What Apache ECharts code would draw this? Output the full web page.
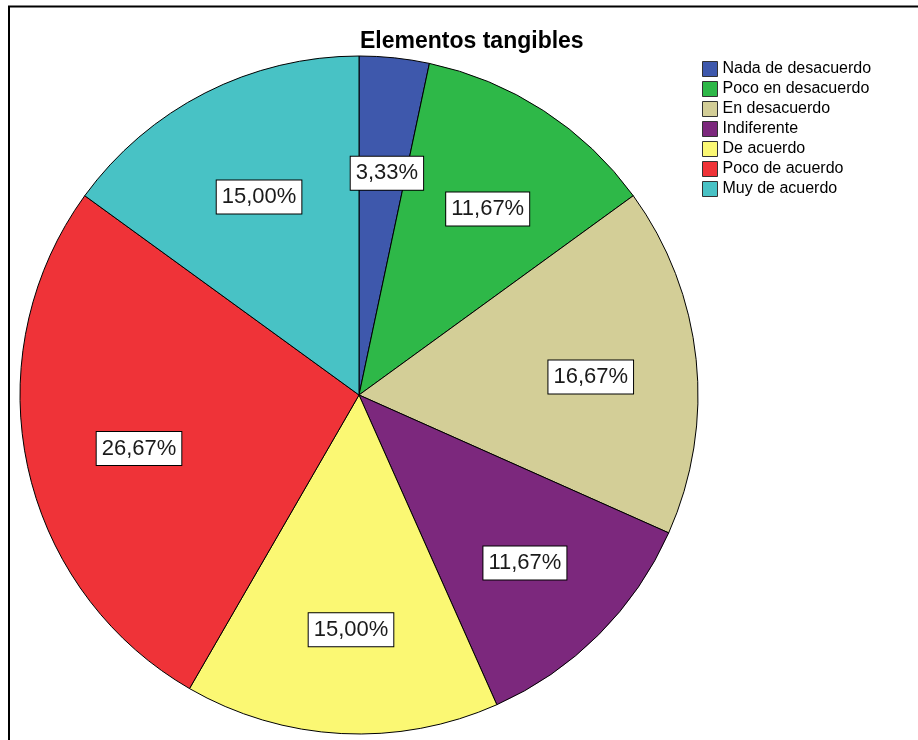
<!DOCTYPE html>
<html>
<head>
<meta charset="utf-8">
<title>Elementos tangibles</title>
<script src="https://cdn.jsdelivr.net/npm/echarts@6/dist/echarts.min.js"></script>
<style>
  html, body { margin: 0; padding: 0; background: #fff; }
  #chart { width: 918px; height: 740px; }
</style>
</head>
<body>
<div id="chart"></div>
<script>
// Response categories, in drawing order (clockwise from 12 o'clock)
const categories = [
  'Nada de desacuerdo',
  'Poco en desacuerdo',
  'En desacuerdo',
  'Indiferente',
  'De acuerdo',
  'Poco de acuerdo',
  'Muy de acuerdo'
];

// Share of responses per category, in percent
const percentages = [3.33, 11.67, 16.67, 11.67, 15.00, 26.67, 15.00];

// Slice fill colours
const palette = ['#3E58AC', '#2EB848', '#D3CE97', '#7C287D', '#FBF873', '#EF3338', '#48C2C5'];

const pieData = categories.map((name, i) => ({ name, value: percentages[i] }));
const fmt = v => v.toFixed(2).replace('.', ',') + '%';

const chart = echarts.init(document.getElementById('chart'), null, { renderer: 'canvas' });

const center = [359, 395];
const outerR = 339;

chart.setOption({
  animation: false,
  backgroundColor: '#ffffff',
  color: palette,
  title: {
    text: 'Elementos tangibles',
    left: 355,
    top: 25,
    textStyle: {
      fontFamily: '"Liberation Sans", Arial, sans-serif',
      fontSize: 23,
      fontWeight: 'bold',
      color: '#000'
    }
  },
  legend: {
    orient: 'vertical',
    left: 697,
    top: 56,
    itemWidth: 15,
    itemHeight: 15,
    itemGap: 4,
    icon: 'rect',
    data: categories,
    itemStyle: { borderColor: '#333', borderWidth: 1 },
    textStyle: {
      fontFamily: '"Liberation Sans", Arial, sans-serif',
      fontSize: 16,
      lineHeight: 15,
      color: '#000'
    }
  },
  graphic: [{
    type: 'rect',
    silent: true,
    shape: { x: 9, y: 6.5, width: 1000, height: 1000 },
    style: { fill: 'none', stroke: '#000', lineWidth: 2 }
  }],
  series: [
    {
      // filled slices
      type: 'pie',
      center: center,
      radius: outerR,
      startAngle: 90,
      clockwise: true,
      data: pieData,
      label: { show: false },
      labelLine: { show: false },
      itemStyle: { borderColor: '#000', borderWidth: 1 },
      emphasis: { disabled: true }
    },
    {
      // transparent ring carrying the percentage boxes
      type: 'pie',
      center: center,
      radius: [113, outerR],
      startAngle: 90,
      clockwise: true,
      silent: true,
      legendHoverLink: false,
      data: pieData,
      itemStyle: { color: 'rgba(0,0,0,0)', borderWidth: 0 },
      labelLine: { show: false },
      label: {
        show: true,
        position: 'inside',
        offset: [4, 6],
        formatter: p => fmt(p.value),
        fontFamily: '"Liberation Sans", Arial, sans-serif',
        fontSize: 22,
        lineHeight: 26,
        color: '#1a1a1a',
        backgroundColor: '#ffffff',
        borderColor: '#000',
        borderWidth: 1,
        padding: [4, 5, 3, 5]
      },
      emphasis: { disabled: true }
    }
  ]
});
</script>
</body>
</html>
